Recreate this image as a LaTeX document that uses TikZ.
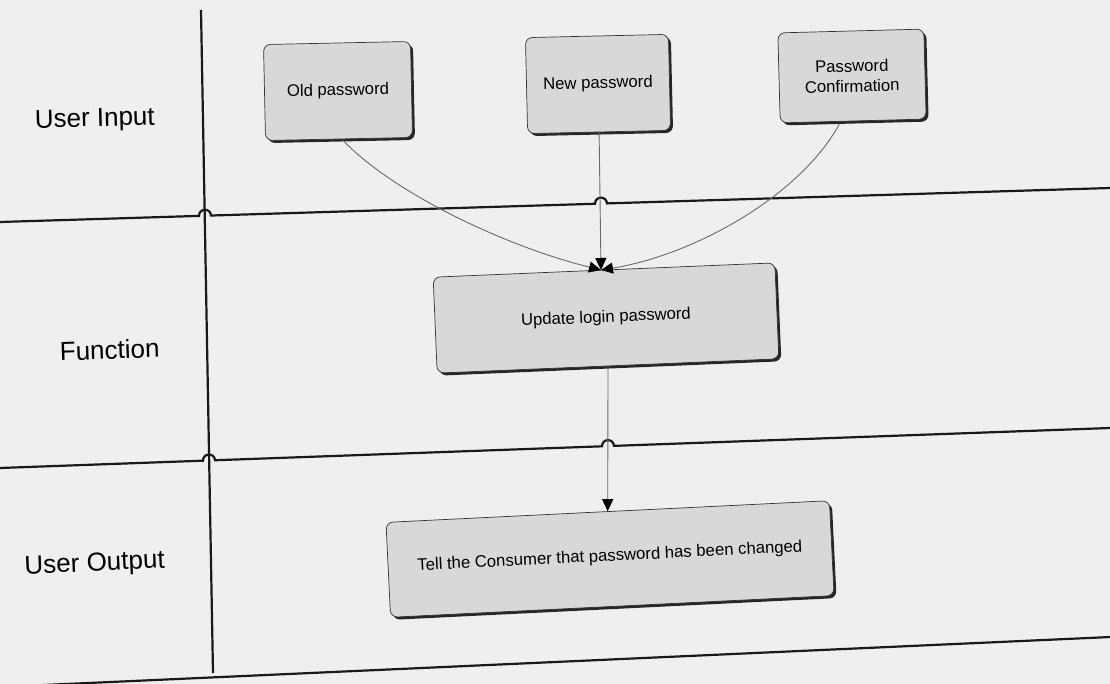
\documentclass[tikz,border=0pt]{standalone}
\usepackage{fontspec}
\setmainfont{Liberation Sans}
\usetikzlibrary{arrows.meta,shadows,calc}
\definecolor{bg}{RGB}{239,239,237}
\definecolor{boxfill}{RGB}{216,216,214}
\definecolor{connc}{RGB}{105,105,105}
\begin{document}
\begin{tikzpicture}[x=1pt,y=1pt,
  lane/.style={line width=2.2pt, draw=black!90},
  box/.style={draw=black!80, line width=0.7pt, fill=boxfill, rounded corners=7pt,
    inner sep=2pt, align=center, font=\fontsize{16.7}{20}\selectfont,
    drop shadow={shadow xshift=2.5pt, shadow yshift=-2.5pt, fill=black!85, opacity=1}},
  lbl/.style={font=\fontsize{26}{30}\selectfont, inner sep=0pt, anchor=base},
  conn/.style={draw=connc, line width=0.9pt},
  tip/.style={-{Triangle[length=12pt,width=11pt,color=black]}}
]
\fill[bg] (0,0) rectangle (1110,-684);
\useasboundingbox (0,0) rectangle (1110,-684);
\clip (0,0) rectangle (1110,-684);

% swimlane labels
\node[lbl, rotate=1.5] (lin) at (95,-126.5) {User Input};
\node[lbl, rotate=2] (lfn) at (110,-359) {Function};
\node[lbl, rotate=2.5] (lout) at (95,-571) {User Output};

% swimlane lines
\draw[lane] (201,-10) -- (213,-673);
\draw[lane] (-5,-222.15) -- (199,-215.9) arc[start angle=181.75,end angle=1.75,radius=6pt]
  -- (595,-203.775) arc[start angle=181.75,end angle=1.75,radius=6pt] -- (1115,-187.85);
\draw[lane] (-5,-468.18) -- (203,-460.685) arc[start angle=182.06,end angle=2.06,radius=6pt]
  -- (602,-446.306) arc[start angle=182.06,end angle=2.06,radius=6pt] -- (1115,-427.82);
\draw[lane] (-5,-687.2) -- (1115,-636.8);

% boxes
\node[box, rotate=1.2, minimum width=147pt, minimum height=96pt] (old) at (338,-91) {Old password};
\node[box, rotate=1.3, minimum width=143pt, minimum height=96pt] (new) at (598,-84) {New password};
\node[box, rotate=1.5, minimum width=146pt, minimum height=90pt] (conf) at (852,-76) {Password\\Confirmation};
\node[box, rotate=2.4, minimum width=342pt, minimum height=96pt] (upd) at (606,-318) {Update login password};
\node[box, rotate=2.8, minimum width=444pt, minimum height=95pt] (tell) at (610,-559) {\raisebox{8pt}{Tell the Consumer that password has been changed}};

% connectors
\coordinate (meet) at (601,-270);
\draw[conn,tip] ($(old.south)+(4,-1)$) .. controls (390,-190) and (500,-245) .. (meet);
\draw[conn,tip] (new.south) -- (meet);
\draw[conn,tip] ($(conf.south)+(-14,-3)$) .. controls (800,-196) and (694,-255) .. (meet);
\draw[conn,tip] (upd.south) -- (tell.north);
\end{tikzpicture}
\end{document}
